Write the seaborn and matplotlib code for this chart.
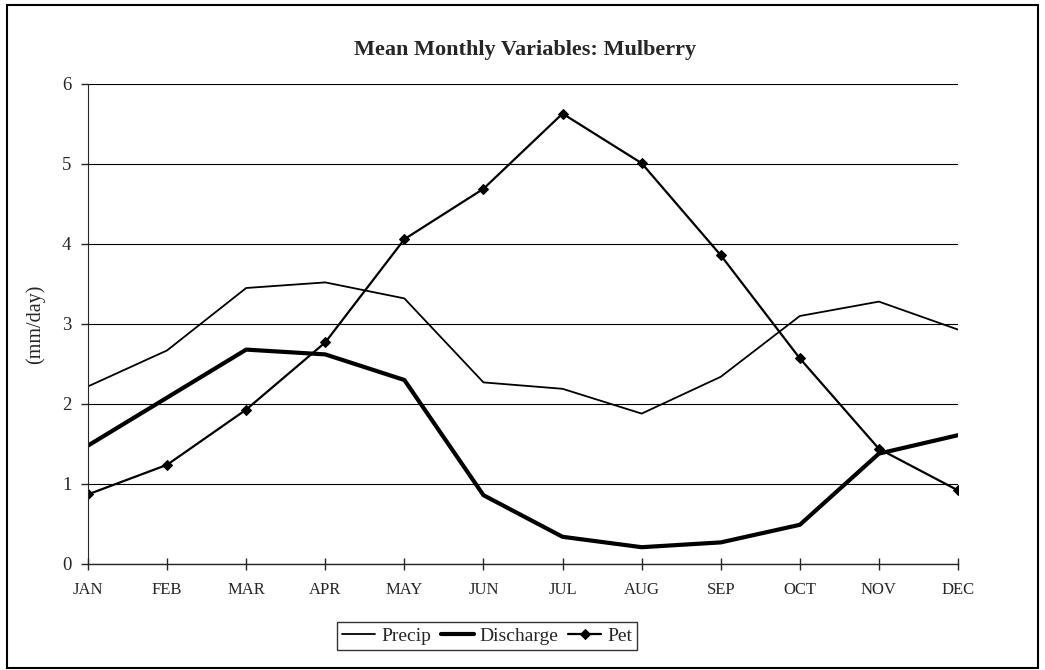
import matplotlib
matplotlib.use("Agg")
import matplotlib.pyplot as plt
import seaborn as sns
import pandas as pd
from matplotlib.patches import Rectangle

months = ["JAN", "FEB", "MAR", "APR", "MAY", "JUN", "JUL", "AUG", "SEP", "OCT", "NOV", "DEC"]
precip = [2.22, 2.67, 3.45, 3.52, 3.32, 2.27, 2.19, 1.88, 2.34, 3.10, 3.28, 2.93]
discharge = [1.48, 2.08, 2.68, 2.62, 2.30, 0.86, 0.34, 0.21, 0.27, 0.49, 1.38, 1.61]
pet = [0.87, 1.24, 1.93, 2.77, 4.06, 4.69, 5.63, 5.01, 3.86, 2.57, 1.44, 0.92]
series_names = ["Precip", "Discharge", "Pet"]

sns.set_style("ticks")
plt.rcParams['font.family'] = ['Liberation Serif', 'DejaVu Serif']

rows = []
for name, vals in zip(series_names, [precip, discharge, pet]):
    for i, (m, v) in enumerate(zip(months, vals)):
        rows.append({"idx": i, "month": m, "value": v, "series": name})
df = pd.DataFrame(rows)

fig = plt.figure(figsize=(10.45, 6.7), dpi=100)
ax = fig.add_axes([88/1045, 1-564/670, 870/1045, 480/670])

styles = {"Precip": dict(lw=1.3, marker=None),
          "Discharge": dict(lw=3.0, marker=None),
          "Pet": dict(lw=1.6, marker="D")}
for name in series_names:
    sub = df[df.series == name]
    st = styles[name]
    sns.lineplot(data=sub, x="idx", y="value", ax=ax, color="black", lw=st["lw"],
                 marker=st["marker"], markersize=5, markeredgecolor="black",
                 label=name, sort=False)

ax.set_xlim(0, 11)
ax.set_ylim(0, 6)
ax.set_xticks(range(12))
ax.set_xticklabels(months, fontsize=12)
ax.set_yticks(range(7))
ax.set_yticklabels([str(i) for i in range(7)], fontsize=13.5)
ax.tick_params(axis='x', direction='inout', length=8, width=1, pad=9)
ax.tick_params(axis='y', direction='out', length=5, width=1, pad=7)
ax.grid(axis='y', color='black', lw=0.8)
ax.set_axisbelow(True)
for s in ["top", "right"]:
    ax.spines[s].set_visible(False)
ax.spines["left"].set_linewidth(0.8)
ax.spines["bottom"].set_linewidth(1.0)
ax.set_xlabel("")
ax.set_ylabel("(mm/day)", fontsize=14.5, labelpad=12)

fig.text(525/1045, 1-50/670, "Mean Monthly Variables: Mulberry", ha="center", va="center",
         fontsize=16, fontweight="bold")

leg = ax.legend(loc="center", bbox_to_anchor=(487/1045, 1-636/670), bbox_transform=fig.transFigure,
                ncol=3, frameon=True, fancybox=False, fontsize=14, handlelength=1.7,
                handletextpad=0.3, columnspacing=0.5, borderpad=0.25, borderaxespad=0)
leg.get_frame().set_edgecolor("black")
leg.get_frame().set_linewidth(1.0)

fig.patches.append(Rectangle((7/1045, 2/670), 1031/1045, 663/670, transform=fig.transFigure,
                             fill=False, edgecolor="black", lw=1.5))

fig.savefig("out.png", dpi=100)
